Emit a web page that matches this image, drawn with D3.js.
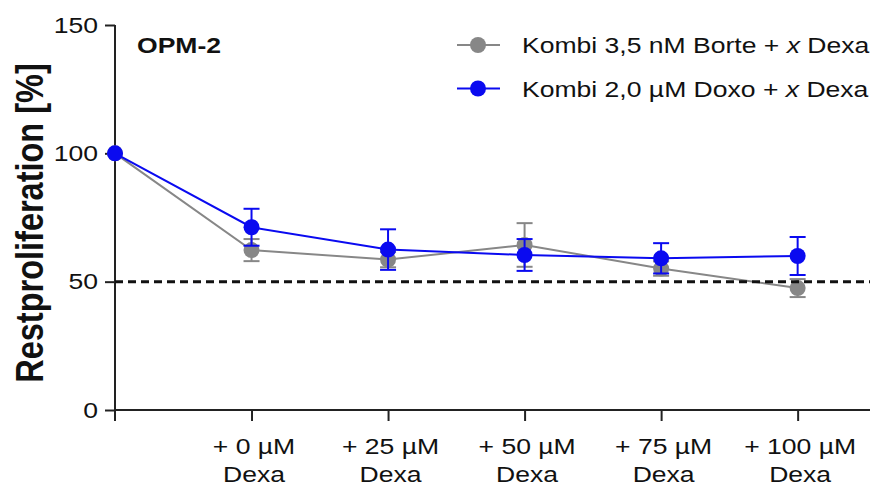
<!DOCTYPE html>
<html>
<head>
<meta charset="utf-8">
<script src="https://cdn.jsdelivr.net/npm/d3@7"></script>
<style>
  html, body { margin: 0; padding: 0; background: #fff; }
  svg { display: block; font-family: "Liberation Sans", Arial, sans-serif; }
</style>
</head>
<body>
<svg id="chart" width="872" height="488"></svg>
<script>
// Dose steps (first point = untreated reference at 100 %)
const doseLines1 = ["", "+ 0 µM", "+ 25 µM", "+ 50 µM", "+ 75 µM", "+ 100 µM"];
const doseLines2 = ["", "Dexa", "Dexa", "Dexa", "Dexa", "Dexa"];

// Series: mean residual proliferation and error (SEM)
const borteMean = [100, 62.3, 58.6, 64.3, 55.1, 47.5];
const borteErr  = [0, 4.3, 3.0, 8.5, 2.8, 3.5];
const doxoMean  = [100, 71.2, 62.5, 60.4, 59.1, 60.0];
const doxoErr   = [0, 7.2, 7.9, 6.2, 5.9, 7.4];

const seriesNames = ["Kombi 3,5 nM Borte + ", "Kombi 2,0 µM Doxo + "];
const yTicks = [0, 50, 100, 150];
const thresholdValue = 50;

// Glyphs are set slightly wide
const SX = 1.18;
const FS = 22.5;

const svg = d3.select("#chart");

const x = d3.scaleLinear().domain([0, 5.53]).range([115, 870]);
const y = d3.scaleLinear().domain([0, 150]).range([410, 25]);

const series = [
  { name: seriesNames[0], mean: borteMean, err: borteErr, color: "#878787" },
  { name: seriesNames[1], mean: doxoMean, err: doxoErr, color: "#0a0af0" }
];

// Y axis
const yAxis = svg.append("g")
  .attr("transform", `translate(${x(0)},0)`)
  .call(d3.axisLeft(y).tickValues(yTicks).tickSize(10).tickSizeOuter(0));
yAxis.select(".domain").remove();
yAxis.append("line")
  .attr("x1", 0).attr("x2", 0)
  .attr("y1", y(150)).attr("y2", y(0) + 11)
  .attr("stroke", "#222").attr("stroke-width", 2);
yAxis.selectAll(".tick line").attr("stroke", "#222").attr("stroke-width", 2);
yAxis.selectAll(".tick text")
  .attr("x", -17 / SX)
  .attr("transform", `scale(${SX},1)`)
  .attr("font-size", FS).attr("fill", "#111")
  .attr("font-family", "Liberation Sans, Arial, sans-serif");

// X axis
const xAxis = svg.append("g")
  .attr("transform", `translate(0,${y(0)})`)
  .call(d3.axisBottom(x).tickValues([1, 2, 3, 4, 5]).tickSize(11).tickSizeOuter(0).tickFormat(""));
xAxis.select(".domain").remove();
xAxis.append("line")
  .attr("x1", x(0)).attr("x2", 870)
  .attr("y1", 0).attr("y2", 0)
  .attr("stroke", "#222").attr("stroke-width", 2);
xAxis.selectAll(".tick line").attr("stroke", "#222").attr("stroke-width", 2);
xAxis.selectAll(".tick").each(function (d) {
  const t = d3.select(this).append("text")
    .attr("transform", `translate(2,0) scale(${SX},1)`)
    .attr("text-anchor", "middle")
    .attr("font-size", FS)
    .attr("fill", "#111");
  t.append("tspan").attr("x", 0).attr("y", 44).text(doseLines1[d]);
  t.append("tspan").attr("x", 0).attr("y", 72).text(doseLines2[d]);
});

// Y axis title
svg.append("text")
  .attr("transform", `translate(43,223) scale(${SX},1) rotate(-90)`)
  .attr("text-anchor", "middle")
  .attr("font-size", 32.5)
  .attr("font-weight", "bold")
  .attr("fill", "#111")
  .text("Restproliferation [%]");

// Panel title
svg.append("text")
  .attr("transform", `translate(137,53) scale(${SX},1)`)
  .attr("font-size", FS)
  .attr("font-weight", "bold")
  .attr("fill", "#111")
  .text("OPM-2");

// Data series
const line = d3.line().x((d, i) => x(i)).y(d => y(d));
series.forEach(s => {
  const g = svg.append("g");
  g.append("path")
    .datum(s.mean)
    .attr("d", line)
    .attr("fill", "none")
    .attr("stroke", s.color)
    .attr("stroke-width", 2);
  const bars = g.selectAll(".err").data(s.mean.map((m, i) => ({ i, m, e: s.err[i] })).filter(d => d.e > 0))
    .enter().append("g");
  bars.append("line")
    .attr("x1", d => x(d.i)).attr("x2", d => x(d.i))
    .attr("y1", d => y(d.m + d.e)).attr("y2", d => y(d.m - d.e))
    .attr("stroke", s.color).attr("stroke-width", 2);
  [1, -1].forEach(sign => {
    bars.append("line")
      .attr("x1", d => x(d.i) - 8).attr("x2", d => x(d.i) + 8)
      .attr("y1", d => y(d.m + sign * d.e)).attr("y2", d => y(d.m + sign * d.e))
      .attr("stroke", s.color).attr("stroke-width", 2);
  });
  g.selectAll("circle").data(s.mean).enter().append("circle")
    .attr("cx", (d, i) => x(i)).attr("cy", d => y(d))
    .attr("r", 8)
    .attr("fill", s.color);
});

// 50 % threshold
svg.append("line")
  .attr("x1", x(0)).attr("x2", 870)
  .attr("y1", y(thresholdValue)).attr("y2", y(thresholdValue))
  .attr("stroke", "#111").attr("stroke-width", 3)
  .attr("stroke-dasharray", "8,5");

// Legend
const legend = svg.append("g");
series.forEach((s, k) => {
  const ly = 45 + k * 43.5;
  legend.append("line")
    .attr("x1", 457).attr("x2", 500).attr("y1", ly).attr("y2", ly)
    .attr("stroke", s.color).attr("stroke-width", 2);
  legend.append("circle")
    .attr("cx", 478).attr("cy", ly).attr("r", 8).attr("fill", s.color);
  const t = legend.append("text")
    .attr("transform", `translate(522,${ly + 8}) scale(${SX},1)`)
    .attr("font-size", FS).attr("fill", "#111");
  t.append("tspan").text(s.name);
  t.append("tspan").attr("font-style", "italic").text("x");
  t.append("tspan").text(" Dexa");
});
</script>
</body>
</html>
